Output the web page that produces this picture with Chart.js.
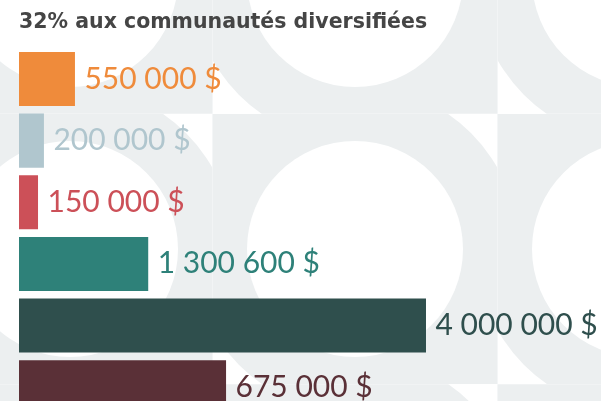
<!DOCTYPE html>
<html lang="fr">
<head>
<meta charset="utf-8">
<title>32% aux communautés diversifiées</title>
<script src="https://cdn.jsdelivr.net/npm/chart.js@4"></script>
<style>
    html, body { margin: 0; padding: 0; background: #ffffff; overflow: hidden; }
    #wrap { width: 601px; height: 418px; position: relative; }
</style>
</head>
<body>
<div id="wrap"><canvas id="dons"></canvas></div>
<script>
const title = '32% aux communautés diversifiées';
const categories = ['550 000 $', '200 000 $', '150 000 $', '1 300 600 $', '4 000 000 $', '675 000 $'];
const amountLabels = ['550 000 $', '200 000 $', '150 000 $', '1 300 600 $', '4 000 000 $', '675 000 $'];
// bar lengths as drawn in the picture (not to scale with the labels)
const barLengths = [550000, 245000, 187000, 1270000, 4000000, 2035000];
const barColors = ['#EF8B3B', '#B0C6CE', '#CC5058', '#2E8179', '#2F4F4D', '#5A3037'];

// Decorative background: gray field with white circles and corner spikes
const patternBackground = {
    id: 'patternBackground',
    beforeDraw(chart) {
        const ctx = chart.ctx;
        const w = chart.width, h = chart.height;
        const gray = '#ECEFF0';
        const tileW = 285, tileH = 270;
        ctx.save();
        ctx.fillStyle = gray;
        ctx.fillRect(0, 0, w, h);
        for (const cx of [70, 355, 640]) {
            for (const cy of [-21, 249, 519]) {
                // bottom-left and top-right quarters are white outside the ring
                const quarters = [
                    [cx - tileW / 2, cy, tileW / 2, tileH / 2],
                    [cx, cy - tileH / 2, tileW / 2, tileH / 2],
                ];
                for (const q of quarters) {
                    ctx.save();
                    ctx.beginPath();
                    ctx.rect(q[0], q[1], q[2], q[3]);
                    ctx.clip();
                    ctx.fillStyle = '#ffffff';
                    ctx.fillRect(q[0], q[1], q[2], q[3]);
                    ctx.fillStyle = gray;
                    ctx.beginPath();
                    ctx.arc(cx, cy, 164, 0, Math.PI * 2);
                    ctx.fill();
                    ctx.restore();
                }
                ctx.fillStyle = '#ffffff';
                ctx.beginPath();
                ctx.arc(cx, cy, 108, 0, Math.PI * 2);
                ctx.fill();
            }
        }
        // faint tile seams
        ctx.strokeStyle = 'rgba(255,255,255,0.25)';
        ctx.lineWidth = 1;
        ctx.beginPath();
        for (const x of [212.5, 497.5]) { ctx.moveTo(x, 0); ctx.lineTo(x, h); }
        for (const y of [113.5, 384.5]) { ctx.moveTo(0, y); ctx.lineTo(w, y); }
        ctx.stroke();
        ctx.restore();
    }
};

// Amount text to the right of each bar, in the bar colour
const amountText = {
    id: 'amountText',
    afterDatasetsDraw(chart) {
        const ctx = chart.ctx;
        const meta = chart.getDatasetMeta(0);
        ctx.save();
        ctx.font = '30px Lato';
        ctx.textAlign = 'left';
        ctx.textBaseline = 'alphabetic';
        meta.data.forEach((bar, i) => {
            ctx.fillStyle = barColors[i];
            ctx.fillText(amountLabels[i], bar.x + 9.5, bar.y + 9.5);
        });
        ctx.restore();
    }
};

new Chart(document.getElementById('dons'), {
    type: 'bar',
    data: {
        labels: categories,
        datasets: [{
            data: barLengths,
            backgroundColor: barColors,
            borderWidth: 0,
            categoryPercentage: 1,
            barPercentage: 0.877,
        }]
    },
    options: {
        indexAxis: 'y',
        responsive: true,
        maintainAspectRatio: false,
        animation: false,
        layout: { padding: { left: 19, right: 0, top: 0, bottom: 0 } },
        scales: {
            x: { display: false, min: 0, max: 5720000 },
            y: { display: false }
        },
        plugins: {
            legend: { display: false },
            tooltip: { enabled: false },
            title: {
                display: true,
                text: title,
                align: 'start',
                color: '#454545',
                font: { family: 'DejaVu Sans', size: 20.5, weight: 'bold', lineHeight: 1.2 },
                padding: { top: 10, bottom: 13.6 }
            }
        }
    },
    plugins: [patternBackground, amountText]
});
</script>
</body>
</html>
